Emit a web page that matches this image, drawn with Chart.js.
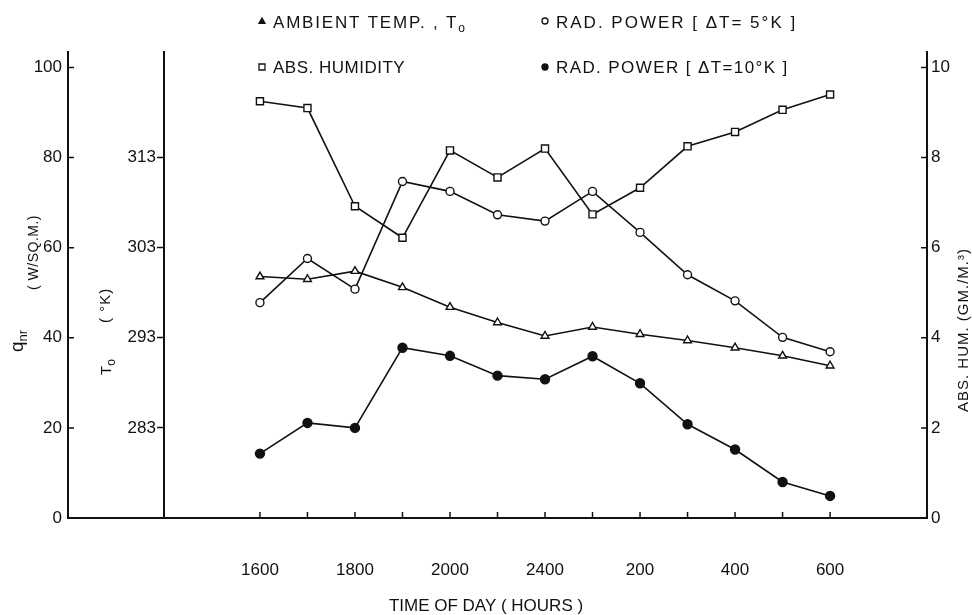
<!DOCTYPE html>
<html>
<head>
<meta charset="utf-8">
<title>Radiative power, ambient temperature and humidity</title>
<script src="https://cdn.jsdelivr.net/npm/chart.js@4.4.1/dist/chart.umd.min.js"></script>
<style>
  html, body { margin: 0; padding: 0; background: #fff; }
  canvas { display: block; }
</style>
</head>
<body>
<canvas id="grafica" width="972" height="615"></canvas>
<script>
// values, one per hour
const hours = ['1600', '1700', '1800', '1900', '2000', '2200', '2400', '100', '200', '300', '400', '500', '600'];
const labelledHours = ['1600', '1800', '2000', '2400', '200', '400', '600'];

const absHumidity = [9.25, 9.10, 6.92, 6.22, 8.16, 7.56, 8.20, 6.74, 7.33, 8.25, 8.57, 9.06, 9.40];
const radPower5K = [47.8, 57.6, 50.8, 74.7, 72.5, 67.3, 65.9, 72.5, 63.4, 54.0, 48.2, 40.1, 36.9];
const radPower10K = [14.3, 21.1, 20.0, 37.8, 36.0, 31.6, 30.8, 35.9, 29.9, 20.8, 15.2, 8.0, 4.9];
const ambientTemp = [299.8, 299.5, 300.4, 298.6, 296.4, 294.7, 293.2, 294.2, 293.4, 292.7, 291.9, 291.0, 289.9];

// tick labels of the three vertical axes
const qTicks = [0, 20, 40, 60, 80, 100];
const tempTicks = [283, 293, 303, 313];
const humTicks = [0, 2, 4, 6, 8, 10];

const ink = '#111';
const family = '"Liberation Sans", Arial, sans-serif';

// q axis runs a bit above 100, the other two follow it
const qMax = 103.44;

function points(values) {
    return values.map((v, i) => ({ x: i, y: v }));
}

function fixedTicks(values) {
    return scale => { scale.ticks = values.map(v => ({ value: v })); };
}

function writeText(ctx, parts, x, y, rotated) {
    ctx.save();
    ctx.translate(x, y);
    if (rotated) ctx.rotate(-Math.PI / 2);
    ctx.fillStyle = ink;
    ctx.textBaseline = 'alphabetic';
    let pos = 0;
    parts.forEach(p => {
        ctx.font = p.size + 'px ' + family;
        ctx.letterSpacing = (p.spacing || 0) + 'px';
        ctx.fillText(p.text, pos, p.shift || 0);
        pos += ctx.measureText(p.text).width;
    });
    ctx.restore();
}

function marker(ctx, style, x, y, r) {
    ctx.save();
    ctx.strokeStyle = ink;
    ctx.fillStyle = style === 'dot' || style === 'triangle' ? ink : '#fff';
    ctx.lineWidth = 1.3;
    ctx.beginPath();
    if (style === 'triangle') {
        ctx.moveTo(x, y - r);
        ctx.lineTo(x + r, y + r * 0.8);
        ctx.lineTo(x - r, y + r * 0.8);
        ctx.closePath();
    } else if (style === 'square') {
        ctx.rect(x - r, y - r, 2 * r, 2 * r);
    } else {
        ctx.arc(x, y, r, 0, Math.PI * 2);
    }
    ctx.fill();
    ctx.stroke();
    ctx.restore();
}

// ticks pointing inwards, temperature labels, legend and axis titles
const extras = {
    id: 'extras',
    afterDraw(chart) {
        const { ctx, chartArea: a, scales } = chart;

        ctx.save();
        ctx.strokeStyle = ink;
        ctx.lineWidth = 1.5;
        ctx.beginPath();
        qTicks.forEach(v => {
            const p = scales.y.getPixelForValue(v);
            ctx.moveTo(a.left, p);
            ctx.lineTo(a.left + 6, p);
        });
        humTicks.forEach(v => {
            const p = scales.yH.getPixelForValue(v);
            ctx.moveTo(a.right, p);
            ctx.lineTo(a.right - 6, p);
        });
        hours.forEach((h, i) => {
            const p = scales.x.getPixelForValue(i);
            ctx.moveTo(p, a.bottom);
            ctx.lineTo(p, a.bottom - 6);
        });
        ctx.stroke();

        // labels of the inner temperature axis, left of its ticks
        const tx = scales.x.getPixelForValue(-2.02);
        ctx.fillStyle = ink;
        ctx.font = '17px ' + family;
        ctx.textAlign = 'right';
        ctx.textBaseline = 'middle';
        tempTicks.forEach(v => {
            ctx.fillText(String(v), tx - 8, scales.yT.getPixelForValue(v));
        });
        ctx.restore();

        // legend
        marker(ctx, 'triangle', 262, 21, 3);
        marker(ctx, 'circle', 545, 21, 3);
        marker(ctx, 'square', 262, 67, 3);
        marker(ctx, 'dot', 545, 67, 3);
        writeText(ctx, [{ text: 'AMBIENT TEMP. , T', size: 17, spacing: 1.8 }, { text: 'o', size: 12, shift: 4 }], 273, 28);
        writeText(ctx, [{ text: 'RAD. POWER [ \u0394T= 5\u00b0K ]', size: 17, spacing: 2 }], 556, 28);
        writeText(ctx, [{ text: 'ABS. HUMIDITY', size: 17, spacing: 0.5 }], 273, 73);
        writeText(ctx, [{ text: 'RAD. POWER [ \u0394T=10\u00b0K ]', size: 17, spacing: 1.4 }], 556, 73);

        // axis titles
        writeText(ctx, [{ text: 'q', size: 19 }, { text: 'nr', size: 13, shift: 4 }], 23, 352, true);
        writeText(ctx, [{ text: '( W/SQ.M.)', size: 14, spacing: 0.5 }], 38, 290, true);
        writeText(ctx, [{ text: 'T', size: 15 }, { text: 'o', size: 12, shift: 4 }], 111, 375, true);
        writeText(ctx, [{ text: '( \u00b0K)', size: 15, spacing: 1 }], 110, 323, true);
        writeText(ctx, [{ text: 'ABS. HUM. (GM./M.\u00b3)', size: 15, spacing: 1 }], 968, 412, true);

        ctx.save();
        ctx.font = '17px ' + family;
        const title = 'TIME OF DAY ( HOURS )';
        const w = ctx.measureText(title).width;
        ctx.restore();
        writeText(ctx, [{ text: title, size: 17 }], 486 - w / 2, 611);
    }
};

function makeChart() {
    const ctx = document.getElementById('grafica').getContext('2d');
    const line = { borderColor: ink, borderWidth: 1.6, pointBorderColor: ink, pointBorderWidth: 1.4, tension: 0 };

    new Chart(ctx, {
        type: 'line',
        data: {
            datasets: [
                Object.assign({ label: 'AMBIENT TEMP., To', data: points(ambientTemp), yAxisID: 'yT',
                    pointStyle: 'triangle', pointRadius: 4.5, pointBackgroundColor: '#fff' }, line),
                Object.assign({ label: 'RAD. POWER [ \u0394T= 5\u00b0K ]', data: points(radPower5K), yAxisID: 'y',
                    pointStyle: 'circle', pointRadius: 4, pointBackgroundColor: '#fff' }, line),
                Object.assign({ label: 'ABS. HUMIDITY', data: points(absHumidity), yAxisID: 'yH',
                    pointStyle: 'rect', pointRadius: 5, pointBackgroundColor: '#fff' }, line),
                Object.assign({ label: 'RAD. POWER [ \u0394T=10\u00b0K ]', data: points(radPower10K), yAxisID: 'y',
                    pointStyle: 'circle', pointRadius: 4.5, pointBackgroundColor: ink }, line)
            ]
        },
        options: {
            responsive: false,
            animation: false,
            devicePixelRatio: 1,
            layout: { padding: { top: 52, left: 0, right: 0, bottom: 0 } },
            plugins: { legend: { display: false }, tooltip: { enabled: false } },
            scales: {
                x: {
                    type: 'linear',
                    min: -4.04,
                    max: 14.04,
                    afterBuildTicks: fixedTicks(hours.map((h, i) => i)),
                    afterFit: s => { s.height = 97; },
                    grid: { display: false, drawTicks: false },
                    border: { display: true, color: ink, width: 2 },
                    ticks: {
                        autoSkip: false,
                        maxRotation: 0,
                        padding: 42,
                        color: ink,
                        font: { family: family, size: 17 },
                        callback: v => labelledHours.includes(hours[v]) ? hours[v] : ''
                    }
                },
                y: {
                    position: 'left',
                    min: 0,
                    max: qMax,
                    afterBuildTicks: fixedTicks(qTicks),
                    afterFit: s => { s.width = 68; },
                    grid: { display: false, drawTicks: false },
                    border: { display: true, color: ink, width: 2 },
                    ticks: { padding: 6, color: ink, font: { family: family, size: 17 } }
                },
                yT: {
                    axis: 'y',
                    position: { x: -2.02 },
                    min: 273,
                    max: 273 + qMax / 2,
                    afterBuildTicks: fixedTicks(tempTicks),
                    grid: { display: true, drawOnChartArea: false, drawTicks: true, tickLength: 6, tickWidth: 1.5, tickColor: ink, color: ink },
                    border: { display: true, color: ink, width: 2 },
                    ticks: { display: false }
                },
                yH: {
                    position: 'right',
                    min: 0,
                    max: qMax / 10,
                    afterFit: s => { s.width = 45; },
                    afterBuildTicks: fixedTicks(humTicks),
                    grid: { display: false, drawTicks: false },
                    border: { display: true, color: ink, width: 2 },
                    ticks: { padding: 4, color: ink, font: { family: family, size: 17 } }
                }
            }
        },
        plugins: [extras]
    });
}

document.addEventListener('DOMContentLoaded', function() {
    makeChart();
});
</script>
</body>
</html>
